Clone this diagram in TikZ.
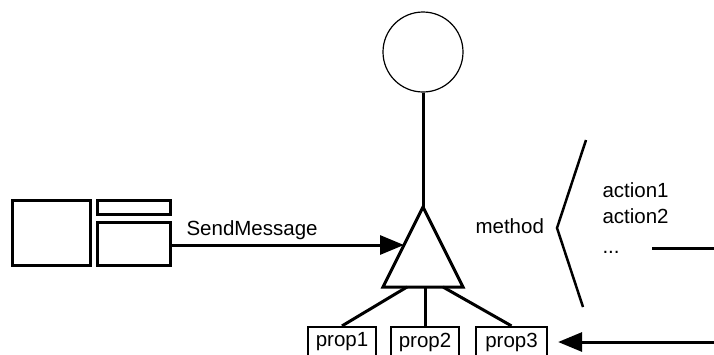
\documentclass[tikz,border=0pt]{standalone}
\usepackage{fontspec}
\setmainfont{Liberation Sans}
\usetikzlibrary{arrows.meta,positioning,calc}

\begin{document}
\begin{tikzpicture}[x=1pt, y=-1pt,
  font=\fontsize{20.5}{24}\selectfont,
  win/.style={rectangle, draw, line width=3pt, inner sep=0pt},
  prop/.style={rectangle, draw, line width=2.2pt, inner sep=0pt, minimum width=68pt, minimum height=30pt},
  lnk/.style={line width=3pt},
  arr/.style={-{Triangle[length=24pt,width=19pt]}, line width=3pt}]
\clip (0,0) rectangle (714,354);
\node[win, minimum width=78pt, minimum height=65pt] (frame) at (51,232.5) {};
\node[win, minimum width=73pt, minimum height=14pt] (bar) at (133.5,207) {};
\node[win, minimum width=73pt, minimum height=43pt] (pane) at (133.5,243.5) {};
\node[circle, draw, line width=1.2pt, minimum size=80pt, inner sep=0pt] (obj) at (423,52) {};
\coordinate (apex) at (423,207);
\coordinate (bl) at (383,287);
\coordinate (br) at (463,287);
\draw[line width=3pt, line join=miter] (apex) -- (bl) -- (br) -- cycle;
\coordinate (tin) at ($(apex)!0.475!(bl)$);
\coordinate (b1) at (407,287);
\coordinate (b2) at (425,287);
\coordinate (b3) at (443,287);
\node[prop] (p1) at (342,342) {prop1};
\node[prop] (p2) at (425,342) {prop2};
\node[prop, minimum width=71pt] (p3) at (511.5,342) {prop3};
\draw[lnk] (obj) -- (apex);
\draw[arr] (pane.east |- tin) -- (tin);
\node[anchor=base west] (send) at (183,235) {SendMessage};
\draw[lnk] (b1) -- (p1.north);
\draw[lnk] (b2) -- (p2.north);
\draw[lnk] (b3) -- (p3.north);
\node[anchor=base west] (meth) at (472,233) {method};
\draw[line width=2.5pt] (586,140) -- (557,228) -- (583,307);
\node[anchor=base west] (act1) at (599,197) {action1};
\node[anchor=base west] (act2) at (599,223) {action2};
\node[anchor=base west] (more) at (599,253) {...};
\coordinate (out) at (652,248);
\coordinate (edge) at (716,248);
\draw[lnk] (out) -- (edge);
\coordinate (in) at (716,342);
\draw[arr, shorten >=10pt] (in) -- (p3.east);
\end{tikzpicture}
\end{document}
